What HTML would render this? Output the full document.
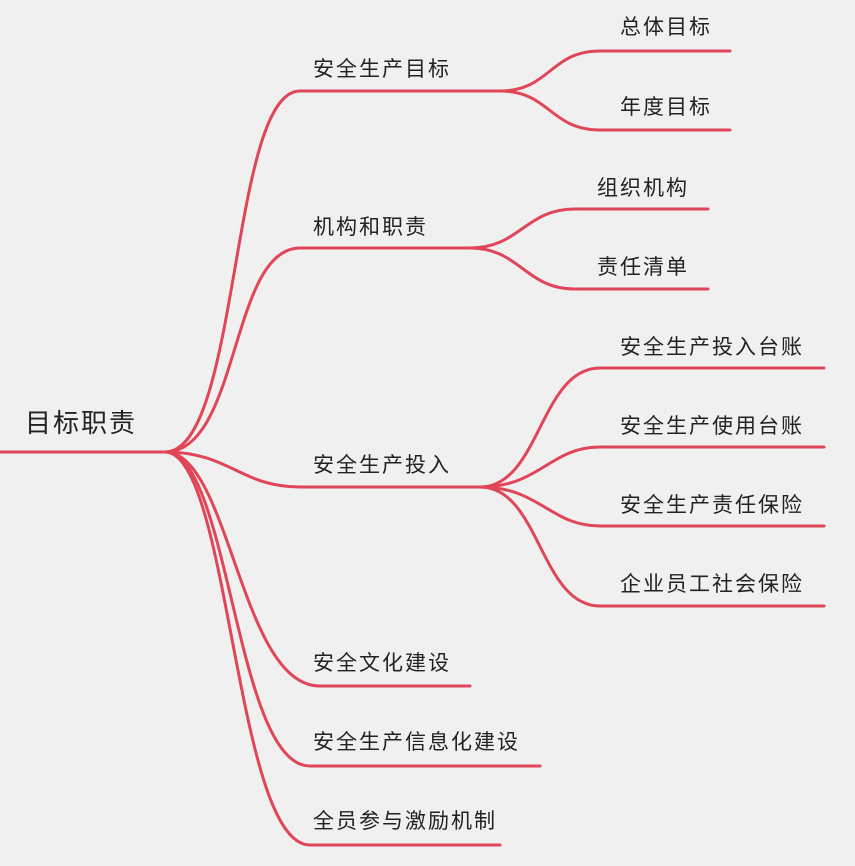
<!DOCTYPE html>
<html><head><meta charset="utf-8"><style>
body{margin:0;background:#f0f0f0;}
svg{display:block}
text{font-family:"Liberation Sans","Noto Sans CJK SC",sans-serif;fill:#222;}
.l1{font-size:21px;letter-spacing:2px}
.l2{font-size:21px;letter-spacing:2px}
path{fill:none;stroke:#e04658;stroke-width:3;stroke-linecap:round}
</style></head><body>
<svg width="855" height="866" viewBox="0 0 855 866">
<rect width="855" height="866" fill="#f0f0f0"/>
<path d="M0 452 L170 452"/>
<path d="M165 452 C240 452 230 91 300 91 L500 91"/>
<path d="M165 452 C240 452 230 248 300 248 L470 248"/>
<path d="M165 452 C230 452 240 487 300 487 L480 487"/>
<path d="M165 452 C230 452 240 686 320 686 L470 686"/>
<path d="M165 452 C230 452 235 766 310 766 L540 766"/>
<path d="M165 452 C230 452 235 845 310 845 L500 845"/>
<path d="M500 91 C550 91 550 51 600 51 L730 51"/>
<path d="M500 91 C550 91 550 130 600 130 L730 130"/>
<path d="M470 248 C520 248 525 209 575 209 L708 209"/>
<path d="M470 248 C520 248 525 289 575 289 L708 289"/>
<path d="M480 487 C540 487 540 368 600 368 L824 368"/>
<path d="M480 487 C540 487 550 447 600 447 L824 447"/>
<path d="M480 487 C540 487 550 526 600 526 L824 526"/>
<path d="M480 487 C540 487 540 606 600 606 L824 606"/>
<text x="25" y="432" style="font-size:26px;letter-spacing:2px">目标职责</text>
<text class="l1" x="313" y="76">安全生产目标</text>
<text class="l1" x="313" y="234">机构和职责</text>
<text class="l1" x="313" y="472">安全生产投入</text>
<text class="l1" x="313" y="670">安全文化建设</text>
<text class="l1" x="313" y="749">安全生产信息化建设</text>
<text class="l1" x="313" y="828">全员参与激励机制</text>
<text class="l2" x="620" y="34">总体目标</text>
<text class="l2" x="620" y="114">年度目标</text>
<text class="l2" x="597" y="195">组织机构</text>
<text class="l2" x="597" y="274">责任清单</text>
<text class="l2" x="620" y="354">安全生产投入台账</text>
<text class="l2" x="620" y="433">安全生产使用台账</text>
<text class="l2" x="620" y="512">安全生产责任保险</text>
<text class="l2" x="620" y="591">企业员工社会保险</text>
</svg>
</body></html>
